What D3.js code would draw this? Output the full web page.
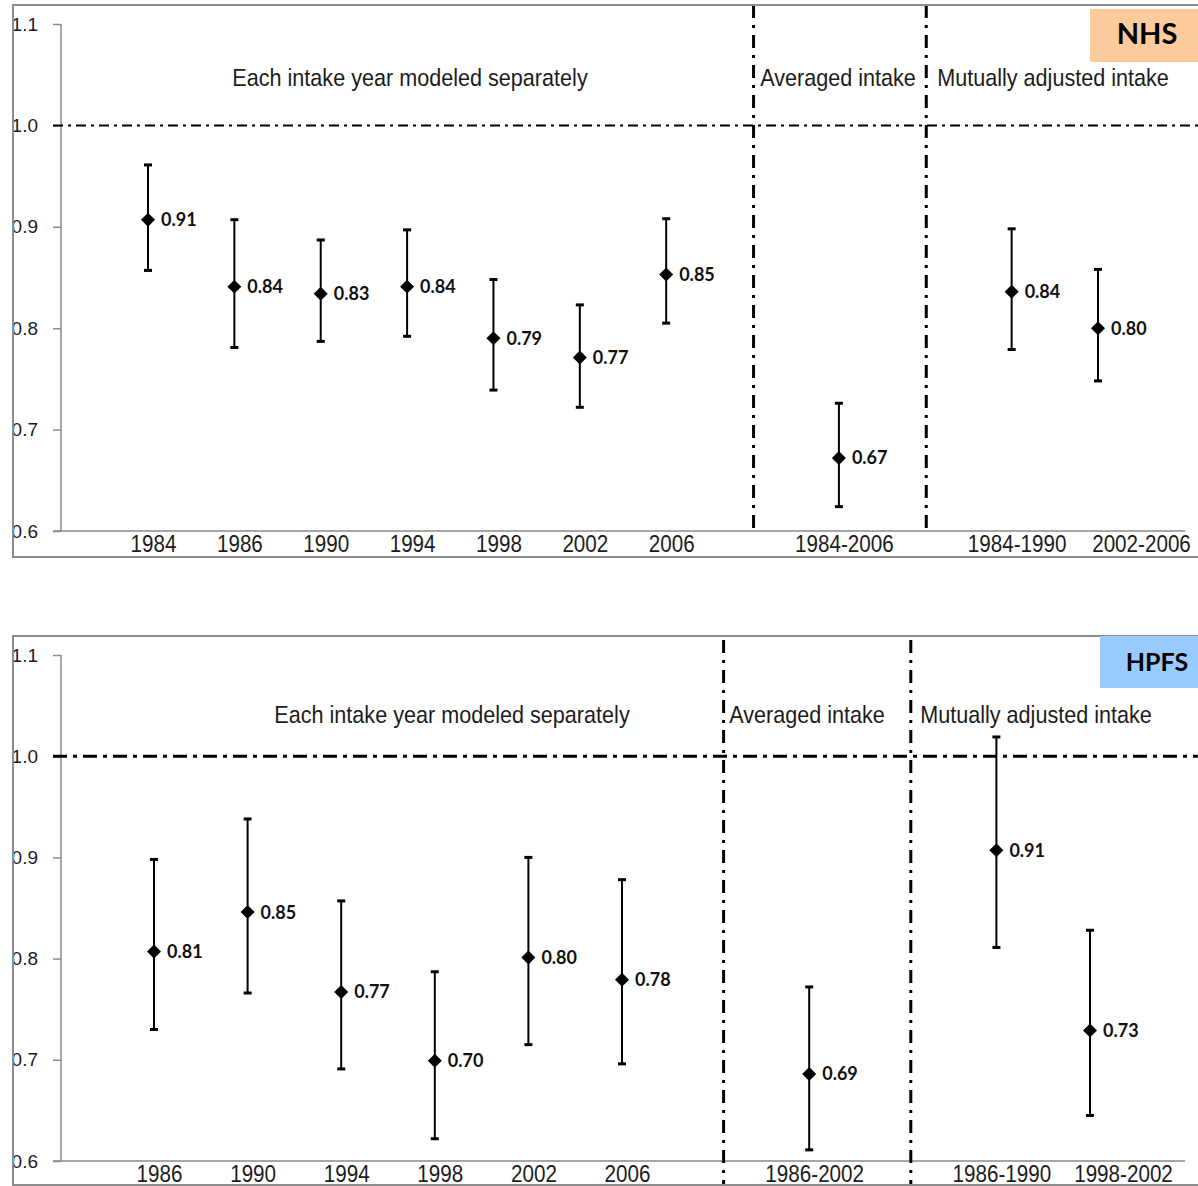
<!DOCTYPE html>
<html>
<head>
<meta charset="utf-8">
<script src="https://cdn.jsdelivr.net/npm/d3@7"></script>
<style>
  body { margin: 0; background: #fff; }
  svg { display: block; }
</style>
</head>
<body>
<div id="vis"></div>
<script>
// data
const yTicks = [0.6, 0.7, 0.8, 0.9, 1.0, 1.1];

const nhsCats = ["1984", "1986", "1990", "1994", "1998", "2002", "2006", "1984-2006", "1984-1990", "2002-2006"];
const nhsEst = [0.907, 0.841, 0.834, 0.841, 0.790, 0.771, 0.853, 0.672, 0.836, 0.800];
const nhsLow = [0.857, 0.781, 0.787, 0.792, 0.739, 0.722, 0.805, 0.624, 0.779, 0.748];
const nhsHigh = [0.961, 0.907, 0.887, 0.897, 0.848, 0.823, 0.908, 0.726, 0.898, 0.858];
const nhsLabels = ["0.91", "0.84", "0.83", "0.84", "0.79", "0.77", "0.85", "0.67", "0.84", "0.80"];

const hpfsCats = ["1986", "1990", "1994", "1998", "2002", "2006", "1986-2002", "1986-1990", "1998-2002"];
const hpfsEst = [0.807, 0.846, 0.767, 0.699, 0.801, 0.779, 0.686, 0.907, 0.729];
const hpfsLow = [0.730, 0.766, 0.691, 0.622, 0.715, 0.696, 0.611, 0.811, 0.645];
const hpfsHigh = [0.898, 0.938, 0.857, 0.787, 0.900, 0.878, 0.772, 1.019, 0.828];
const hpfsLabels = ["0.81", "0.85", "0.77", "0.70", "0.80", "0.78", "0.69", "0.91", "0.73"];

const groupTitles = ["Each intake year modeled separately", "Averaged intake", "Mutually adjusted intake"];
const nhsGroupSizes = [7, 1, 2];
const hpfsGroupSizes = [6, 1, 2];

let width = 1198;
let height = 1186;

let svg = d3.select("#vis").append("svg").attr("width", width).attr("height", height)

svg.append("defs").append("clipPath").attr("id", "leftclip")
    .append("rect").attr("x", 12).attr("y", 0).attr("width", width).attr("height", height)

const sx = 0.86   // the source text is a bit narrow
const tx = 0.9

// layout of the two panels (positions only)
const panels = [
    {
        name: "NHS", badgeFill: "#fdcb9c", cats: nhsCats, est: nhsEst, low: nhsLow, high: nhsHigh, labels: nhsLabels,
        sizes: nhsGroupSizes, frameTop: 5, frameBottom: 557, yTop: 24, yBottom: 531, x0: 148, x1: 1098,
        divShift: 1, divTop: 5, divBottom: 531, lastDx: 43, refWidth: 2, refDash: "10,5,3,5",
        titleX: [410, 838, 1053], titleY: 86, badge: { x: 1090, y: 9, w: 110, h: 53, size: 29, ty: 44 }
    },
    {
        name: "HPFS", badgeFill: "#99cbfd", cats: hpfsCats, est: hpfsEst, low: hpfsLow, high: hpfsHigh, labels: hpfsLabels,
        sizes: hpfsGroupSizes, frameTop: 636, frameBottom: 1185, yTop: 655, yBottom: 1161, x0: 154, x1: 1090,
        divShift: 8, divTop: 640, divBottom: 1186, lastDx: 33, refWidth: 3, refDash: "14,6,4,6",
        titleX: [452, 807, 1036], titleY: 723, badge: { x: 1100, y: 636, w: 100, h: 52, size: 25, ty: 671 }
    }
];

panels.forEach(function (p) {
    let g = svg.append("g")

    // domain with empty slots where the dividers go
    let domain = [];
    let start = 0;
    p.sizes.forEach(function (n, i) {
        if (i > 0) domain.push("gap" + i);
        domain = domain.concat(p.cats.slice(start, start + n));
        start += n;
    });

    let x = d3.scalePoint().domain(domain).range([p.x0, p.x1]).padding(0)
    let y = d3.scaleLinear().domain([0.6, 1.1]).range([p.yBottom, p.yTop])

    // y axis (labels are cut by the frame on the left)
    let yWrap = g.append("g").attr("clip-path", "url(#leftclip)")
    let yAxis = yWrap.append("g").attr("transform", "translate(61,0)")
        .call(d3.axisLeft(y).tickValues(yTicks).tickFormat(d3.format(".1f")).tickSize(8).tickPadding(15))
    yAxis.select(".domain").attr("stroke", "#8a8a8a").attr("stroke-width", 1.5).attr("d", "M0," + p.yTop + "V" + p.yBottom)
    yAxis.selectAll("line").attr("stroke", "#8a8a8a").attr("stroke-width", 1.5)
    yAxis.selectAll("text").attr("font-family", "Liberation Sans, Arial, sans-serif").attr("font-size", 19).attr("fill", "#1c1c28")

    // x axis line
    g.append("line").attr("x1", 53).attr("x2", 1185).attr("y1", p.yBottom).attr("y2", p.yBottom)
        .attr("stroke", "#8a8a8a").attr("stroke-width", 1.5)

    // category labels
    let xAxis = g.append("g").attr("transform", "translate(0," + p.yBottom + ")")
        .call(d3.axisBottom(x).tickValues(p.cats).tickSize(0).tickPadding(0))
    xAxis.select(".domain").remove()
    xAxis.selectAll("text")
        .attr("font-family", "Liberation Sans, Arial, sans-serif").attr("font-size", 24).attr("fill", "#1c1c1c")
        .attr("y", 21).attr("dy", 0)
        .attr("transform", "scale(" + sx + ",1)")
        .attr("x", (d, i) => (i === p.cats.length - 1 ? p.lastDx : 5) / sx)

    // reference line at 1.0
    g.append("line").attr("x1", 53).attr("x2", width).attr("y1", y(1.0)).attr("y2", y(1.0))
        .attr("stroke", "#000").attr("stroke-width", p.refWidth).attr("stroke-dasharray", p.refDash)

    // group dividers
    domain.filter(d => d.startsWith("gap")).forEach(function (d) {
        g.append("line").attr("x1", x(d) + p.divShift).attr("x2", x(d) + p.divShift)
            .attr("y1", p.divTop).attr("y2", p.divBottom)
            .attr("stroke", "#000").attr("stroke-width", 3).attr("stroke-dasharray", "13,7,3,7")
    });

    // group titles
    groupTitles.forEach(function (t, i) {
        g.append("text")
            .attr("transform", "translate(" + p.titleX[i] + "," + p.titleY + ") scale(" + tx + ",1)")
            .attr("text-anchor", "middle")
            .attr("font-family", "Liberation Sans, Arial, sans-serif").attr("font-size", 24).attr("fill", "#1c1c1c")
            .text(t)
    });

    // error bars
    let bars = g.append("g").selectAll("g").data(p.cats).enter().append("g")
        .attr("transform", d => "translate(" + x(d) + ",0)")
    bars.append("line").attr("y1", (d, i) => y(p.low[i])).attr("y2", (d, i) => y(p.high[i]))
        .attr("stroke", "#000").attr("stroke-width", 2)
    bars.append("line").attr("x1", -4).attr("x2", 4).attr("y1", (d, i) => y(p.low[i])).attr("y2", (d, i) => y(p.low[i]))
        .attr("stroke", "#000").attr("stroke-width", 3)
    bars.append("line").attr("x1", -4).attr("x2", 4).attr("y1", (d, i) => y(p.high[i])).attr("y2", (d, i) => y(p.high[i]))
        .attr("stroke", "#000").attr("stroke-width", 3)
    bars.append("path")
        .attr("d", d3.symbol().type(d3.symbolSquare).size(98))
        .attr("transform", (d, i) => "translate(0," + y(p.est[i]) + ") rotate(45)")
        .attr("fill", "#000")
    bars.append("text")
        .attr("x", 13).attr("y", (d, i) => y(p.est[i])).attr("dy", "0.36em")
        .attr("font-family", "Lato, 'Open Sans', sans-serif").attr("font-weight", "bold").attr("font-size", 18)
        .attr("fill", "#111")
        .text((d, i) => p.labels[i])

    // frame
    g.append("rect").attr("x", 13).attr("y", p.frameTop).attr("width", width).attr("height", p.frameBottom - p.frameTop)
        .attr("fill", "none").attr("stroke", "#8c8c8c").attr("stroke-width", 2)

    // badge
    g.append("rect").attr("x", p.badge.x).attr("y", p.badge.y).attr("width", p.badge.w).attr("height", p.badge.h)
        .attr("fill", p.badgeFill)
    g.append("text").attr("x", p.badge.x + 57).attr("y", p.badge.ty).attr("text-anchor", "middle")
        .attr("font-family", "Lato, sans-serif").attr("font-weight", "bold").attr("font-size", p.badge.size)
        .attr("fill", "#000")
        .text(p.name)
});
</script>
</body>
</html>
